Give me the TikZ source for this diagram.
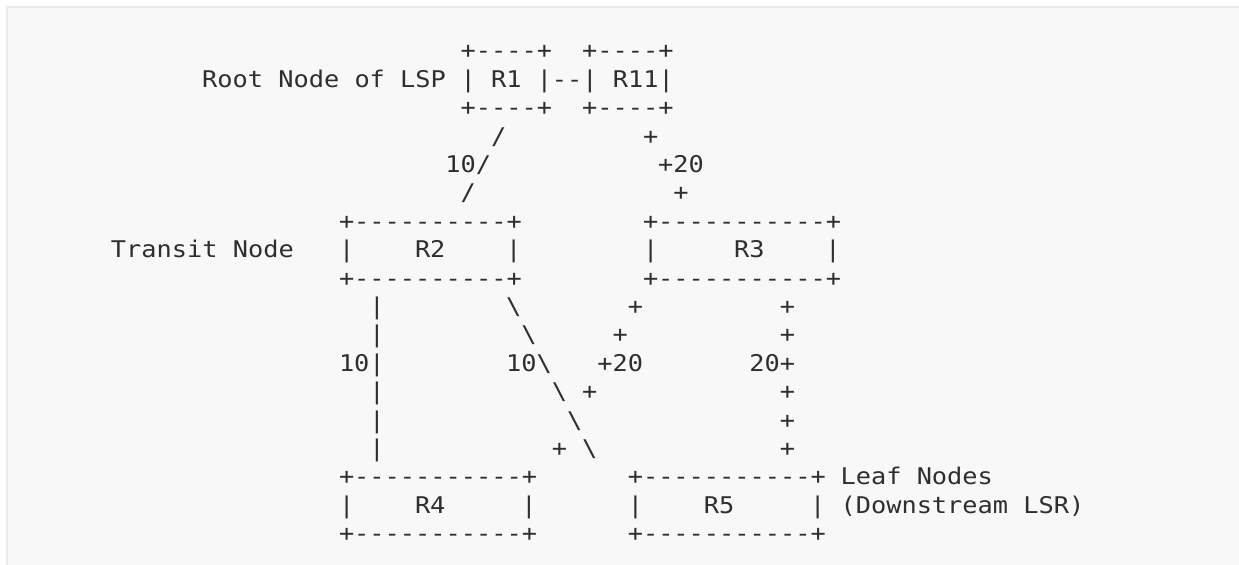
\documentclass[tikz,border=0pt]{standalone}
\usepackage{fontspec}
\setmonofont[FakeStretch=1.1]{DejaVu Sans Mono}
\usepackage{xcolor}
\usepackage{tikz}

\definecolor{panelfill}{HTML}{F8F8F8}
\definecolor{panelline}{HTML}{EBEBEB}
\definecolor{glyphink}{HTML}{2E2E2E}

\tikzset{
  asc/.style={anchor=base west, inner sep=0pt, outer sep=0pt, text=glyphink,
    font=\ttfamily\fontsize{11.5}{14}\selectfont}
}

\begin{document}
\begin{tikzpicture}[x=0.5pt, y=-0.5pt]
    % page and panel
    \useasboundingbox (0,0) rectangle (1239,565);
    \fill[white] (0,0) rectangle (1239,565);
    \fill[panelline] (6,6) rectangle (1239,565);
    \fill[panelfill] (8,8) rectangle (1239,565);

    % character rows: row/column/text
    \foreach [count=\n] \r/\c/\t in {
        1/23/{+----+}, 1/31/{+----+},
        2/6/{Root Node of LSP}, 2/23/{| R1 |--| R11|},
        3/23/{+----+}, 3/31/{+----+},
        4/25/{/}, 4/35/{+},
        5/22/{10/}, 5/36/{+20},
        6/23/{/}, 6/37/{+},
        7/15/{+----------+}, 7/35/{+-----------+},
        8/0/{Transit Node}, 8/15/{|}, 8/20/{R2}, 8/26/{|},
        8/35/{|}, 8/41/{R3}, 8/47/{|},
        9/15/{+----------+}, 9/35/{+-----------+},
        10/17/{|}, 10/26/{\textbackslash}, 10/34/{+}, 10/44/{+},
        11/17/{|}, 11/27/{\textbackslash}, 11/33/{+}, 11/44/{+},
        12/15/{10|}, 12/26/{10\textbackslash}, 12/32/{+20}, 12/42/{20+},
        13/17/{|}, 13/29/{\textbackslash}, 13/31/{+}, 13/44/{+},
        14/17/{|}, 14/30/{\textbackslash}, 14/44/{+},
        15/17/{|}, 15/29/{+}, 15/31/{\textbackslash}, 15/44/{+},
        16/15/{+-----------+}, 16/34/{+-----------+}, 16/48/{Leaf Nodes},
        17/15/{|}, 17/20/{R4}, 17/27/{|},
        17/34/{|}, 17/39/{R5}, 17/46/{|}, 17/48/{(Downstream LSR)},
        18/15/{+-----------+}, 18/34/{+-----------+}}
      \node[asc] (seg\n) at ({111+15.2*\c},{58.9+28.4*(\r-1)}) {\t};
\end{tikzpicture}
\end{document}
